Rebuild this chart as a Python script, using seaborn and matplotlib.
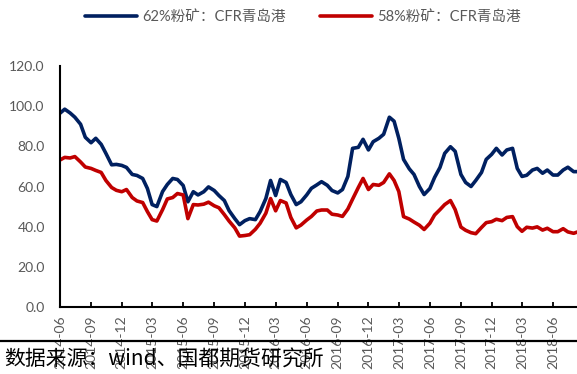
import numpy as np
import pandas as pd
import matplotlib
matplotlib.use("Agg")
import matplotlib.pyplot as plt
import matplotlib.dates as mdates
import seaborn as sns

# ---------------- data (semi-monthly) ----------------
series_names = ["62%粉矿：CFR青岛港", "58%粉矿：CFR青岛港"]
start_date = "2014-06-01"

fines62 = [96.5, 98.5, 96.6, 94.5, 91.0, 84.5, 81.8, 84.0, 81.0, 76.5,
           70.8, 71.0, 70.5, 69.5, 66.0, 65.5, 64.0, 59.0, 51.0, 50.0,
           57.5, 61.0, 64.0, 63.5, 60.5, 52.4, 57.4, 55.8, 57.4, 59.8,
           58.0, 55.5, 53.0, 48.0, 44.0, 41.0, 43.0, 44.0, 43.5, 47.5,
           54.0, 63.0, 55.5, 63.5, 62.0, 56.0, 51.0, 52.4, 55.8, 59.1,
           60.8, 62.4, 60.6, 58.0, 56.8, 58.5, 65.0, 79.0, 79.5, 83.5,
           78.2, 82.3, 84.0, 86.0, 94.5, 92.5, 84.0, 73.5, 68.8, 66.0,
           60.0, 56.0, 59.0, 64.5, 69.5, 76.5, 79.8, 77.5, 66.0, 62.0,
           60.0, 63.0, 67.0, 73.5, 76.0, 79.0, 75.7, 78.2, 79.0, 69.0,
           65.0, 65.6, 68.2, 69.0, 66.6, 68.2, 65.7, 65.7, 68.2, 69.6,
           67.4, 67.4]

fines58 = [73.2, 74.5, 74.2, 74.9, 72.2, 69.7, 69.0, 68.0, 67.0, 63.0,
           59.5, 58.1, 57.4, 58.5, 54.5, 52.8, 52.0, 47.5, 43.5, 42.8,
           48.5, 53.8, 54.5, 56.5, 55.8, 44.0, 51.0, 50.8, 51.2, 52.2,
           50.4, 49.4, 46.0, 42.8, 39.4, 35.3, 35.6, 36.0, 38.7, 41.7,
           46.7, 54.0, 47.9, 53.0, 51.8, 44.6, 39.4, 40.8, 43.3, 45.1,
           47.8, 48.3, 48.3, 46.2, 45.8, 45.1, 48.8, 53.7, 59.5, 64.0,
           58.5, 61.0, 60.6, 62.0, 66.3, 63.0, 57.5, 45.0, 43.8, 42.3,
           40.7, 38.6, 41.7, 45.8, 48.5, 51.0, 53.0, 48.5, 39.8, 38.2,
           37.0, 36.5, 39.6, 42.0, 42.5, 43.7, 43.0, 44.6, 45.0, 40.0,
           37.7, 39.7, 39.3, 39.9, 38.3, 39.2, 37.5, 37.5, 39.0, 37.4,
           36.7, 37.5]

yticks = [0, 20, 40, 60, 80, 100, 120]
source_text = "数据来源：wind、国都期货研究所"

# ---------------- styling ----------------
NAVY = "#002060"
RED = "#C00000"
GRAY = "#595959"

sns.set_style("ticks")
plt.rcParams["font.family"] = ["Lato", "Noto Sans CJK SC", "DejaVu Sans"]

dates = pd.date_range(start_date, periods=len(fines62), freq="SMS")
df = pd.DataFrame({
    "date": np.concatenate([dates.values, dates.values]),
    "price": fines62 + fines58,
    "series": [series_names[0]] * len(fines62) + [series_names[1]] * len(fines58),
})

fig = plt.figure(figsize=(5.77, 3.74), dpi=100)
ax = fig.add_axes([60 / 577, 1 - 307 / 374, 1 - 60 / 577, (307 - 66) / 374])

sns.lineplot(data=df, x="date", y="price", hue="series",
             palette=[NAVY, RED], hue_order=series_names,
             linewidth=2.6, ax=ax, legend=False)

ax.set_xlim(pd.Timestamp("2014-06-01"), pd.Timestamp("2018-08-11"))
ax.set_ylim(0, 120)
ax.set_yticks(yticks)
ax.set_yticklabels([f"{v:.1f}" for v in yticks])
ax.set_xlabel("")
ax.set_ylabel("")

ax.xaxis.set_major_locator(mdates.MonthLocator(bymonth=[3, 6, 9, 12]))
ax.xaxis.set_major_formatter(mdates.DateFormatter("%Y-%m"))

for s in ["top", "right"]:
    ax.spines[s].set_visible(False)
for s in ["left", "bottom"]:
    ax.spines[s].set_color("black")
    ax.spines[s].set_linewidth(1.5)

ax.tick_params(axis="y", length=0, pad=11, labelsize=10, labelcolor=GRAY)
ax.tick_params(axis="x", direction="in", length=3.5, width=1.3, color="black",
               pad=6, labelsize=10, labelcolor=GRAY, labelrotation=90)
for lab in ax.get_xticklabels():
    lab.set_verticalalignment("top")

# legend
handles = ax.get_lines()[:2]
fig.legend(handles, series_names, loc="center",
           bbox_to_anchor=(303 / 577, 1 - 17 / 374), ncol=2, frameon=False,
           fontsize=10.5, labelcolor=GRAY, handlelength=3.6,
           handletextpad=0.35, columnspacing=2.3)

# source line and text
fig.add_artist(plt.Line2D([0, 1], [1 - 341 / 374, 1 - 341 / 374],
                          transform=fig.transFigure, color="black", linewidth=1.6))
fig.text(4 / 577, 1 - 359 / 374, source_text, fontsize=15, color="black",
         va="center", ha="left", family=["Noto Sans CJK SC", "DejaVu Sans"])

fig.savefig("out.png", dpi=100)
